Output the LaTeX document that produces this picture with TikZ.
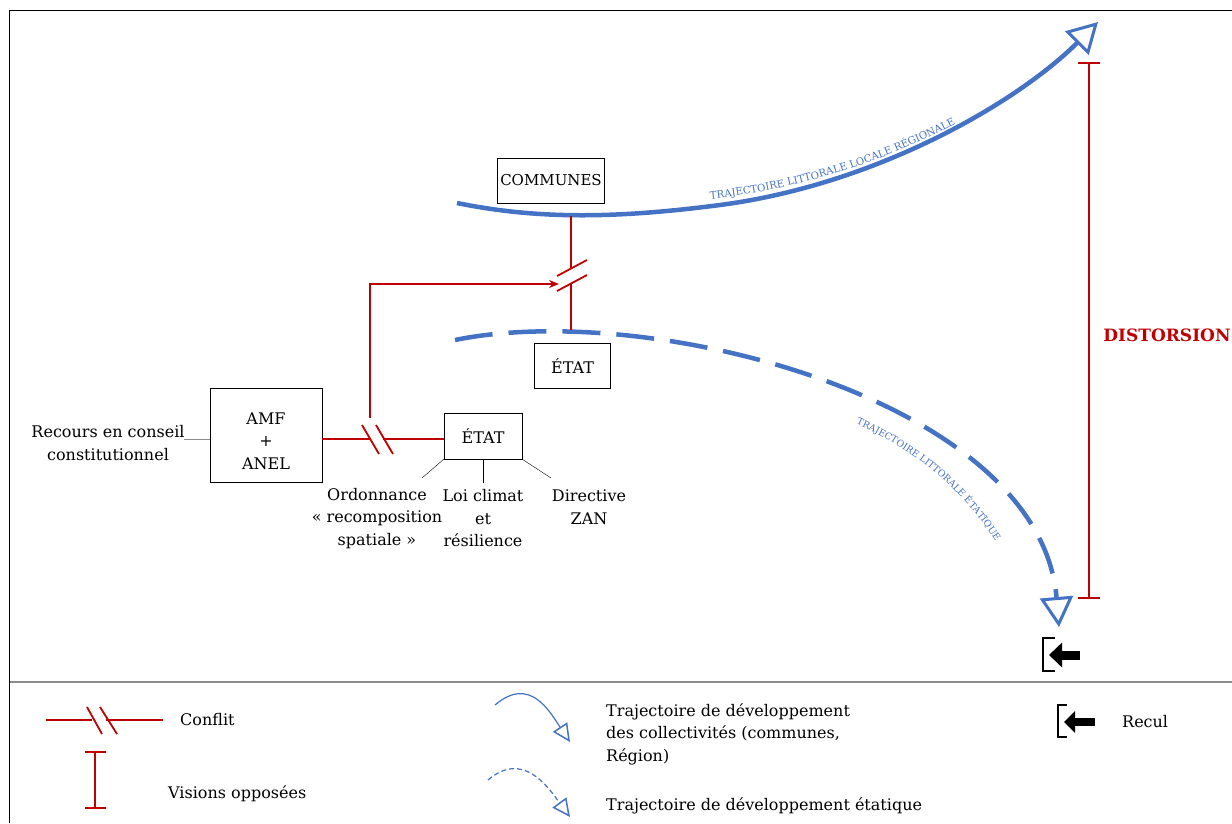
\documentclass[tikz,border=0pt]{standalone}
\usepackage{fontspec}
\setmainfont{DejaVu Serif}
\usetikzlibrary{arrows.meta, positioning, decorations.text}
\definecolor{cblue}{HTML}{4472C4}
\definecolor{cred}{HTML}{C00000}
\definecolor{cgrey}{HTML}{8C8C8C}

\begin{document}
\begin{tikzpicture}[
  x=1pt, y=-1pt,
  font=\fontsize{16}{22.5}\selectfont,
  box/.style={draw, thin, align=center, inner sep=0pt},
  lbl/.style={align=center, inner sep=0pt},
  conflit/.style={draw=cred, line width=1.6pt},
  slash/.style={draw=cred, line width=1.8pt},
  traj/.style={draw=cblue, line width=4.5pt,
               -{Triangle[open, length=30pt, width=33pt, line width=3pt]}},
  trajleg/.style={draw=cblue, line width=1.2pt,
               -{Triangle[open, length=18pt, width=17pt, line width=1.5pt]}},
  curvetext/.style 2 args={decorate, decoration={text along path, text align=center,
               text color=cblue, text={|\fontsize{#1}{10}\selectfont|#2}}},
  bracket/.style={draw=black, line width=2.6pt},
  ]
% frame
\useasboundingbox (0,0) rectangle (1232,823);
\draw[line width=1.3pt] (9.5,823) -- (9.5,10.5) -- (1232,10.5);
\draw[cgrey, line width=1.5pt] (9.5,682) -- (1232,682);

% boxes
\node[box, minimum width=107pt, minimum height=45pt, font=\fontsize{15}{20}\selectfont] (communes) at (551,180.5) {COMMUNES};
\node[box, minimum width=76pt, minimum height=45pt] (etathaut) at (572.5,366) {ÉTAT};
\node[box, minimum width=112pt, minimum height=94pt] (amf) at (266,435) {};
\node[lbl] (amftxt) at (266,441) {AMF\\+\\ANEL};
\node[box, minimum width=78pt, minimum height=46pt] (etatbas) at (483,436) {ÉTAT};

\node[lbl] (recours) at (108,443) {Recours en conseil\\constitutionnel};
\node[lbl] (ordo) at (377,518.5) {Ordonnance\\« recomposition\\spatiale »};
\node[lbl] (loi) at (483,518.5) {Loi climat\\et\\résilience};
\node[lbl] (zan) at (589,507) {Directive\\ZAN};

\draw[cgrey, thin] (184,439) -- (amf.west |- 0,439);
\draw[thin] (etatbas.south west) -- (422,478);
\draw[thin] (etatbas.south) -- (483,483);
\draw[thin] (etatbas.south east) -- (551,478);

% trajectories
\draw[traj] (457,203) .. controls (540,220) and (620,218) .. (720,205)
  .. controls (880,184) and (1020,100) .. (1098,22);
\draw[traj, dash pattern=on 38pt off 16pt]
  (455,340) .. controls (650,300) and (1040,400) .. (1059,627);
\path[curvetext={10.2}{TRAJECTOIRE LITTORALE LOCALE RÉGIONALE}]
  (703,200) .. controls (800,190) and (890,160) .. (962,120);
\path[curvetext={9.4}{TRAJECTOIRE LITTORALE ÉTATIQUE}]
  (850,421) .. controls (910,446) and (965,490) .. (999,547);

% conflit communes / etat
\coordinate (c1) at (571,216);
\coordinate (c2) at (571,330);
\draw[conflit] (c1) -- (571,268);
\draw[conflit] (571,283) -- (c2);
\draw[slash] (557,276) -- (587,260);
\draw[slash] (557,291) -- (587,275);

% conflit amf / etat
\draw[conflit] (amf.east |- 0,439) -- (370,439);
\draw[conflit] (383,439) -- (etatbas.west |- 0,439);
\draw[slash] (362,425) -- (379,454);
\draw[slash] (376,425) -- (393,454);
\draw[conflit, -{Stealth[length=10pt, width=8pt]}] (370,418) -- (370,284) -- (559,284);

% distorsion
\draw[conflit] (1078,63) -- (1100,63);
\draw[conflit] (1089,63) -- (1089,598);
\draw[conflit] (1078,598) -- (1100,598);
\node[text=cred, font=\fontsize{17}{18}\selectfont\bfseries] (distorsion) at (1167,335) {DISTORSION};

% recul
\draw[bracket] (1055,638) -- (1043,638) -- (1043,671) -- (1055,671);
\draw[line width=9pt, -{Triangle[length=13pt, width=24pt]}] (1080,655) -- (1049,655);

% legende
\draw[conflit] (46,720) -- (92,720);
\draw[conflit] (106,720) -- (163,720);
\draw[slash] (87,707) -- (102,734);
\draw[slash] (100,707) -- (117,734);
\node[anchor=west, inner sep=0pt] (lconflit) at (180,720) {Conflit};

\draw[conflit] (85,752) -- (106,752);
\draw[conflit] (95,752) -- (95,808);
\draw[conflit] (85,808) -- (106,808);
\node[anchor=west, inner sep=0pt] (lvisions) at (168,794) {Visions opposées};

\draw[trajleg] (495,705) .. controls (530,675) and (550,712) .. (570,742);
\draw[trajleg, dash pattern=on 5pt off 3pt] (488,780) .. controls (523,750) and (548,787) .. (570,817);
\node[anchor=west, align=left, inner sep=0pt] (lcoll) at (606,734)
  {Trajectoire de développement\\des collectivités (communes,\\Région)};
\node[anchor=west, inner sep=0pt] (letat) at (606,806) {Trajectoire de développement étatique};

\draw[bracket, line width=2.2pt] (1067,705) -- (1058,705) -- (1058,737) -- (1067,737);
\draw[line width=8pt, -{Triangle[length=11pt, width=21pt]}] (1095,722) -- (1064,722);
\node[anchor=west, inner sep=0pt] (lrecul) at (1122,722) {Recul};
\end{tikzpicture}
\end{document}
